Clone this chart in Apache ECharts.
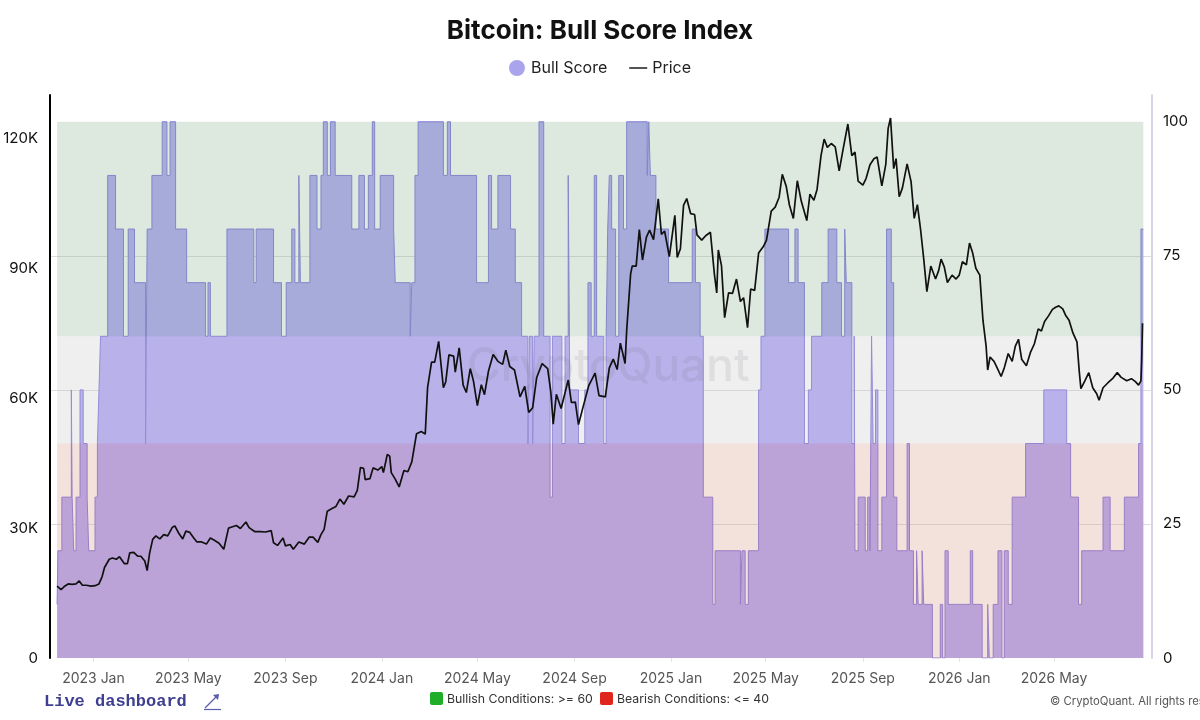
<!DOCTYPE html>
<html><head><meta charset="utf-8">
<script src="https://cdn.jsdelivr.net/npm/echarts@6/dist/echarts.min.js"></script>
<style>html,body{margin:0;padding:0;background:#fff}#c{width:1200px;height:720px}</style>
</head><body><div id="c"></div>
<script>
// Bull Score: value holds from the date until the next entry
const bullScore = [
['2022-11-16',10],['2022-11-17',20],['2022-11-22',30],['2022-12-04',50],['2022-12-05',30],['2022-12-07',20],
['2022-12-10',30],['2022-12-15',50],['2022-12-19',40],['2022-12-24',30],['2022-12-26',20],['2023-01-03',30],
['2023-01-06',40],['2023-01-08',50],['2023-01-10',60],['2023-01-19',90],['2023-01-29',80],['2023-02-08',60],
['2023-02-14',80],['2023-02-22',70],['2023-03-08',40],['2023-03-10',80],['2023-03-16',90],['2023-03-29',100],
['2023-04-04',90],['2023-04-08',100],['2023-04-15',80],['2023-04-29',70],['2023-05-23',60],['2023-05-26',70],
['2023-05-29',60],['2023-06-19',80],['2023-07-23',70],['2023-07-26',80],['2023-08-17',70],['2023-08-27',60],
['2023-09-02',70],['2023-09-09',80],['2023-09-13',70],['2023-09-18',90],['2023-09-20',70],['2023-10-02',90],
['2023-10-11',80],['2023-10-16',90],['2023-10-19',100],['2023-10-24',90],['2023-10-28',100],['2023-11-03',90],
['2023-11-24',80],['2023-12-03',90],['2023-12-10',80],['2023-12-15',90],['2023-12-20',100],['2023-12-23',80],
['2023-12-30',90],['2024-01-16',80],['2024-01-18',70],['2024-02-06',60],['2024-02-08',70],['2024-02-12',90],
['2024-02-16',100],['2024-03-19',90],['2024-03-24',100],['2024-03-28',90],['2024-04-30',70],['2024-05-15',90],
['2024-05-19',80],['2024-05-27',90],['2024-06-12',80],['2024-06-18',70],['2024-06-26',60],['2024-07-04',40],
['2024-07-06',60],['2024-07-10',40],['2024-07-12',60],['2024-07-18',100],['2024-07-24',60],['2024-08-01',30],
['2024-08-04',60],['2024-08-16',40],['2024-08-20',60],['2024-08-24',90],['2024-08-26',50],['2024-09-06',40],
['2024-09-14',50],['2024-09-18',70],['2024-09-22',60],['2024-09-26',90],['2024-09-29',60],['2024-10-08',40],
['2024-10-11',60],['2024-10-13',80],['2024-10-15',90],['2024-10-18',80],['2024-10-23',60],['2024-10-27',90],
['2024-11-02',80],['2024-11-06',100],['2024-12-02',90],['2024-12-04',100],['2024-12-06',90],['2024-12-13',80],
['2024-12-29',70],['2025-01-28',80],['2025-02-01',70],['2025-02-07',60],['2025-02-11',30],['2025-02-23',10],
['2025-02-26',20],['2025-03-30',10],['2025-04-01',20],['2025-04-05',10],['2025-04-09',20],['2025-04-22',50],
['2025-04-25',60],['2025-04-30',80],['2025-05-30',70],['2025-06-07',80],['2025-06-11',70],['2025-06-19',40],
['2025-06-24',50],['2025-06-28',60],['2025-07-11',70],['2025-07-19',80],['2025-07-30',70],['2025-08-05',60],
['2025-08-09',80],['2025-08-11',70],['2025-08-18',40],['2025-08-21',60],['2025-08-22',20],['2025-08-26',30],
['2025-09-04',20],['2025-09-07',30],['2025-09-10',20],['2025-09-12',60],['2025-09-14',40],['2025-09-17',50],
['2025-09-20',20],['2025-09-25',30],['2025-10-01',80],['2025-10-07',70],['2025-10-10',30],['2025-10-14',20],
['2025-10-27',40],['2025-10-30',20],['2025-11-04',10],['2025-11-08',20],['2025-11-10',10],['2025-11-15',20],
['2025-11-17',10],['2025-11-28',0],['2025-12-08',10],['2025-12-11',0],['2025-12-14',20],['2025-12-18',10],
['2026-01-15',20],['2026-01-18',10],['2026-01-30',0],['2026-02-06',10],['2026-02-08',0],['2026-02-13',10],
['2026-02-19',20],['2026-02-24',0],['2026-02-27',20],['2026-03-04',10],['2026-03-09',30],['2026-03-26',40],
['2026-04-18',50],['2026-05-17',40],['2026-05-22',30],['2026-06-01',10],['2026-06-05',20],['2026-07-02',30],
['2026-07-11',20],['2026-07-29',30],['2026-08-16',40],['2026-08-19',80],['2026-08-22',80]
];

// BTC price, thousands of USD
const price = [
['2022-11-16',16.6],['2022-11-21',15.8],['2022-11-25',16.5],['2022-11-30',17.1],['2022-12-05',17.0],['2022-12-10',17.1],
['2022-12-14',17.8],['2022-12-18',16.8],['2022-12-23',16.8],['2022-12-29',16.6],['2023-01-03',16.7],['2023-01-08',17.1],
['2023-01-12',18.8],['2023-01-15',20.9],['2023-01-21',22.8],['2023-01-25',23.1],['2023-01-30',22.8],['2023-02-03',23.4],
['2023-02-09',21.8],['2023-02-13',21.8],['2023-02-16',24.3],['2023-02-21',24.4],['2023-02-26',23.5],['2023-03-02',23.5],
['2023-03-07',22.4],['2023-03-10',20.2],['2023-03-13',24.1],['2023-03-17',27.4],['2023-03-21',28.2],['2023-03-26',27.5],
['2023-03-31',28.5],['2023-04-05',28.2],['2023-04-11',30.2],['2023-04-14',30.5],['2023-04-19',28.8],['2023-04-24',27.5],
['2023-04-28',29.3],['2023-05-03',29.0],['2023-05-08',27.7],['2023-05-12',26.8],['2023-05-18',26.8],['2023-05-24',26.3],
['2023-05-29',27.7],['2023-06-03',27.2],['2023-06-09',26.5],['2023-06-15',25.1],['2023-06-21',30.0],['2023-06-26',30.3],
['2023-07-01',30.6],['2023-07-06',29.9],['2023-07-13',31.4],['2023-07-17',30.1],['2023-07-24',29.2],['2023-07-31',29.2],
['2023-08-07',29.1],['2023-08-14',29.4],['2023-08-17',26.6],['2023-08-22',26.0],['2023-08-29',27.7],['2023-09-01',25.9],
['2023-09-07',26.2],['2023-09-11',25.1],['2023-09-18',26.8],['2023-09-25',26.3],['2023-10-01',27.9],['2023-10-06',27.9],
['2023-10-12',26.7],['2023-10-16',28.5],['2023-10-20',29.7],['2023-10-24',33.9],['2023-10-30',34.5],['2023-11-04',35.0],
['2023-11-09',36.7],['2023-11-14',35.5],['2023-11-20',37.4],['2023-11-27',37.2],['2023-12-01',38.7],['2023-12-05',44.0],
['2023-12-09',43.8],['2023-12-11',41.2],['2023-12-17',41.4],['2023-12-21',43.9],['2023-12-27',43.4],['2024-01-01',44.2],
['2024-01-03',42.8],['2024-01-08',47.0],['2024-01-11',46.6],['2024-01-13',42.8],['2024-01-18',41.3],['2024-01-23',39.5],
['2024-01-29',43.3],['2024-02-03',43.0],['2024-02-08',45.3],['2024-02-14',51.8],['2024-02-20',52.3],['2024-02-25',51.7],
['2024-02-28',62.5],['2024-03-04',68.3],['2024-03-08',68.3],['2024-03-13',73.1],['2024-03-19',62.4],['2024-03-22',63.8],
['2024-03-26',70.0],['2024-04-01',69.7],['2024-04-03',66.0],['2024-04-08',71.6],['2024-04-13',63.0],['2024-04-17',61.3],
['2024-04-22',66.8],['2024-04-26',64.0],['2024-05-01',58.3],['2024-05-06',63.1],['2024-05-10',60.8],['2024-05-15',66.2],
['2024-05-21',70.1],['2024-05-27',68.5],['2024-06-02',67.8],['2024-06-06',71.1],['2024-06-11',67.3],['2024-06-17',66.5],
['2024-06-24',60.3],['2024-06-30',62.7],['2024-07-05',56.7],['2024-07-10',57.8],['2024-07-15',64.7],['2024-07-22',68.0],
['2024-07-29',66.8],['2024-08-02',61.4],['2024-08-05',54.0],['2024-08-09',60.9],['2024-08-15',57.6],['2024-08-24',64.2],
['2024-08-28',59.0],['2024-09-02',59.1],['2024-09-06',53.9],['2024-09-12',58.1],['2024-09-19',62.9],['2024-09-27',65.8],
['2024-10-02',60.6],['2024-10-10',60.3],['2024-10-15',67.0],['2024-10-20',69.0],['2024-10-25',66.6],['2024-10-29',72.7],
['2024-11-04',68.0],['2024-11-06',75.6],['2024-11-11',88.7],['2024-11-13',90.5],['2024-11-18',90.5],['2024-11-22',98.9],
['2024-11-26',91.9],['2024-12-01',97.2],['2024-12-05',98.8],['2024-12-10',96.6],['2024-12-16',106.0],['2024-12-20',97.8],
['2024-12-24',98.6],['2024-12-30',92.7],['2025-01-06',102.2],['2025-01-09',92.5],['2025-01-13',94.5],['2025-01-17',104.5],
['2025-01-21',106.1],['2025-01-26',102.6],['2025-01-31',102.4],['2025-02-03',97.7],['2025-02-09',96.5],['2025-02-14',97.5],
['2025-02-20',98.3],['2025-02-25',88.7],['2025-02-28',84.3],['2025-03-02',94.2],['2025-03-06',90.6],['2025-03-10',78.6],
['2025-03-15',84.3],['2025-03-20',84.2],['2025-03-25',87.5],['2025-03-30',82.3],['2025-04-03',83.2],['2025-04-08',76.3],
['2025-04-12',85.2],['2025-04-17',84.9],['2025-04-22',93.5],['2025-04-28',95.0],['2025-05-02',96.5],['2025-05-08',103.2],
['2025-05-13',104.1],['2025-05-18',106.4],['2025-05-22',111.7],['2025-05-27',108.9],['2025-05-31',104.6],['2025-06-05',101.5],
['2025-06-10',110.2],['2025-06-15',105.5],['2025-06-22',101.0],['2025-06-26',107.1],['2025-07-01',105.7],['2025-07-05',108.2],
['2025-07-10',116.0],['2025-07-14',119.8],['2025-07-18',117.9],['2025-07-23',118.8],['2025-07-28',118.0],['2025-08-02',112.5],
['2025-08-07',117.5],['2025-08-13',123.3],['2025-08-18',116.0],['2025-08-22',116.8],['2025-08-26',110.1],['2025-09-01',109.2],
['2025-09-05',110.7],['2025-09-10',113.9],['2025-09-15',115.3],['2025-09-19',115.7],['2025-09-25',109.0],['2025-09-30',114.0],
['2025-10-03',122.3],['2025-10-06',124.7],['2025-10-10',113.0],['2025-10-13',115.3],['2025-10-17',106.5],['2025-10-21',108.5],
['2025-10-27',114.1],['2025-11-01',110.0],['2025-11-05',101.5],['2025-11-09',104.7],['2025-11-13',99.0],['2025-11-17',92.2],
['2025-11-21',84.6],['2025-11-26',90.5],['2025-12-02',87.5],['2025-12-06',89.5],['2025-12-09',92.1],['2025-12-13',90.3],
['2025-12-17',86.7],['2025-12-23',88.4],['2025-12-28',87.5],['2026-01-01',88.4],['2026-01-05',91.5],['2026-01-10',90.8],
['2026-01-14',95.8],['2026-01-18',93.5],['2026-01-22',90.0],['2026-01-27',88.4],['2026-01-31',78.0],['2026-02-04',72.0],
['2026-02-06',66.5],['2026-02-09',69.5],['2026-02-14',68.5],['2026-02-18',67.0],['2026-02-23',65.0],['2026-02-27',67.0],
['2026-03-04',70.3],['2026-03-09',68.5],['2026-03-13',72.0],['2026-03-17',73.6],['2026-03-21',69.0],['2026-03-27',67.5],
['2026-04-01',70.5],['2026-04-06',72.5],['2026-04-11',76.0],['2026-04-15',75.5],['2026-04-19',77.7],['2026-04-24',79.0],
['2026-04-29',80.5],['2026-05-03',81.0],['2026-05-07',81.3],['2026-05-12',80.6],['2026-05-16',79.0],['2026-05-20',78.0],
['2026-05-25',75.0],['2026-05-30',73.0],['2026-06-02',66.0],['2026-06-04',62.2],['2026-06-09',64.0],['2026-06-14',65.9],
['2026-06-19',62.4],['2026-06-24',61.0],['2026-06-27',59.5],['2026-07-02',62.4],['2026-07-08',63.5],['2026-07-14',64.5],
['2026-07-20',65.9],['2026-07-25',64.8],['2026-08-01',64.0],['2026-08-07',64.5],['2026-08-12',63.8],['2026-08-16',63.0],
['2026-08-19',64.0],['2026-08-20',69.0],['2026-08-21',77.3]
];

const xTickDates = ['2023-01-01','2023-05-01','2023-09-01','2024-01-01','2024-05-01','2024-09-01',
  '2025-01-01','2025-05-01','2025-09-01','2026-01-01','2026-05-01'];
const monthNames = ['Jan','Feb','Mar','Apr','May','Jun','Jul','Aug','Sep','Oct','Nov','Dec'];
const bullishLevel = 60;
const bearishLevel = 40;

const ts = d => new Date(d + 'T00:00:00').getTime();
const bullData = bullScore.map(p => [ts(p[0]), p[1]]);
const priceData = price.map(p => [ts(p[0]), p[1]]);
const dataStart = bullData[0][0];
const dataEnd = bullData[bullData.length - 1][0];
const tickTs = xTickDates.map(ts);
const FONT = 'Inter, "Noto Sans", sans-serif';
const LINK = '#5b5bb0';

const chart = echarts.init(document.getElementById('c'), null, {renderer: 'canvas'});
chart.setOption({
  animation: false,
  backgroundColor: '#ffffff',
  title: {
    text: 'Bitcoin: Bull Score Index', left: 'center', top: 13,
    textStyle: {fontSize: 26, fontWeight: 'bold', color: '#111', fontFamily: FONT}
  },
  legend: {
    top: 55, left: 'center', itemGap: 22, itemWidth: 18, itemHeight: 16,
    textStyle: {fontSize: 16, color: '#222', fontFamily: FONT},
    data: [
      {name: 'Bull Score', icon: 'circle', itemStyle: {color: '#aaa4ec'}},
      {name: 'Price', icon: 'path://M0,0h20v1.6h-20z', itemStyle: {color: '#111'}}
    ]
  },
  grid: {left: 50, right: 48, top: 95, bottom: 62},
  xAxis: {
    type: 'value', min: ts('2022-11-07'), max: ts('2026-09-02'),
    axisLine: {show: false},
    axisTick: {show: true, customValues: tickTs, length: 4, lineStyle: {color: '#e4e4e4'}},
    splitLine: {show: false},
    axisLabel: {
      customValues: tickTs, margin: 14, fontSize: 14, color: '#555', fontFamily: FONT,
      formatter: v => { const d = new Date(v); return d.getFullYear() + ' ' + monthNames[d.getMonth()]; }
    }
  },
  yAxis: [
    {
      type: 'value', position: 'left', min: 0, max: 130, interval: 30,
      axisLine: {show: true, lineStyle: {color: '#000', width: 2}},
      axisTick: {show: false}, splitLine: {show: false},
      axisLabel: {showMaxLabel: false, margin: 12, fontSize: 15, color: '#111', fontFamily: FONT,
        formatter: v => v === 0 ? '0' : v + 'K'}
    },
    {
      type: 'value', position: 'right', min: 0, max: 105, interval: 25,
      axisLine: {show: true, lineStyle: {color: '#d6d4e6', width: 2}},
      axisTick: {show: false},
      splitLine: {show: true, lineStyle: {width: 1,
        color: ['transparent', '#dcdcdc', '#dcdcdc', '#dcdcdc', 'transparent', 'transparent']}},
      axisLabel: {showMaxLabel: false, margin: 11, fontSize: 15, color: '#111', fontFamily: FONT}
    }
  ],
  series: [
    {
      name: 'Bull Score', type: 'line', yAxisIndex: 1, step: 'end', z: 2,
      data: bullData, showSymbol: false, symbol: 'none',
      itemStyle: {color: '#aaa4ec'},
      lineStyle: {color: '#7d72de', width: 1},
      areaStyle: {color: '#b0a7f8', opacity: 1}
    },
    {
      name: 'Zones', type: 'line', yAxisIndex: 1, z: 3, data: [],
      markArea: {
        silent: true, z: 3,
        data: [
          [{xAxis: dataStart, yAxis: bullishLevel, itemStyle: {color: 'rgba(142,182,148,0.3)'}}, {xAxis: dataEnd, yAxis: 100}],
          [{xAxis: dataStart, yAxis: bearishLevel, itemStyle: {color: 'rgba(202,202,202,0.3)'}}, {xAxis: dataEnd, yAxis: bullishLevel}],
          [{xAxis: dataStart, yAxis: 0, itemStyle: {color: 'rgba(215,155,138,0.3)'}}, {xAxis: dataEnd, yAxis: bearishLevel}]
        ]
      }
    },
    {
      name: 'Price', type: 'line', yAxisIndex: 0, z: 5,
      data: priceData, showSymbol: false, symbol: 'none',
      itemStyle: {color: '#111'},
      lineStyle: {color: '#111', width: 1.7}
    }
  ],
  graphic: [
    {type: 'text', left: 467, top: 344, z: 4, silent: true,
      style: {text: 'CryptoQuant', fontSize: 46, fontWeight: 500, fontFamily: FONT, fill: 'rgba(110,110,120,0.13)'}},
    {type: 'text', left: 44, top: 693, style: {text: 'Live dashboard', fontSize: 17, fontWeight: 'bold',
      fontFamily: '"Liberation Mono", "DejaVu Sans Mono", monospace', fill: '#3e3e92'}},
    {type: 'line', shape: {x1: 205, y1: 708, x2: 218, y2: 695}, style: {stroke: LINK, lineWidth: 1.2}},
    {type: 'polygon', shape: {points: [[213,695],[219,694],[218,700]]}, style: {fill: LINK}},
    {type: 'line', shape: {x1: 204, y1: 709.5, x2: 221, y2: 709.5}, style: {stroke: LINK, lineWidth: 1.2}},
    {type: 'rect', shape: {x: 430, y: 692, width: 13, height: 13, r: 2}, style: {fill: '#1fae2a'}},
    {type: 'text', left: 447, top: 693, style: {text: 'Bullish Conditions: >= 60', fontSize: 12.3, fontFamily: FONT, fill: '#333'}},
    {type: 'rect', shape: {x: 600, y: 692, width: 13, height: 13, r: 2}, style: {fill: '#e0251f'}},
    {type: 'text', left: 617, top: 693, style: {text: 'Bearish Conditions: <= 40', fontSize: 12.3, fontFamily: FONT, fill: '#333'}},
    {type: 'text', left: 1050, top: 696, style: {text: '\u00A9 CryptoQuant. All rights reserved.', fontSize: 11.3, fontFamily: FONT, fill: '#555'}}
  ]
});
</script>
</body></html>
